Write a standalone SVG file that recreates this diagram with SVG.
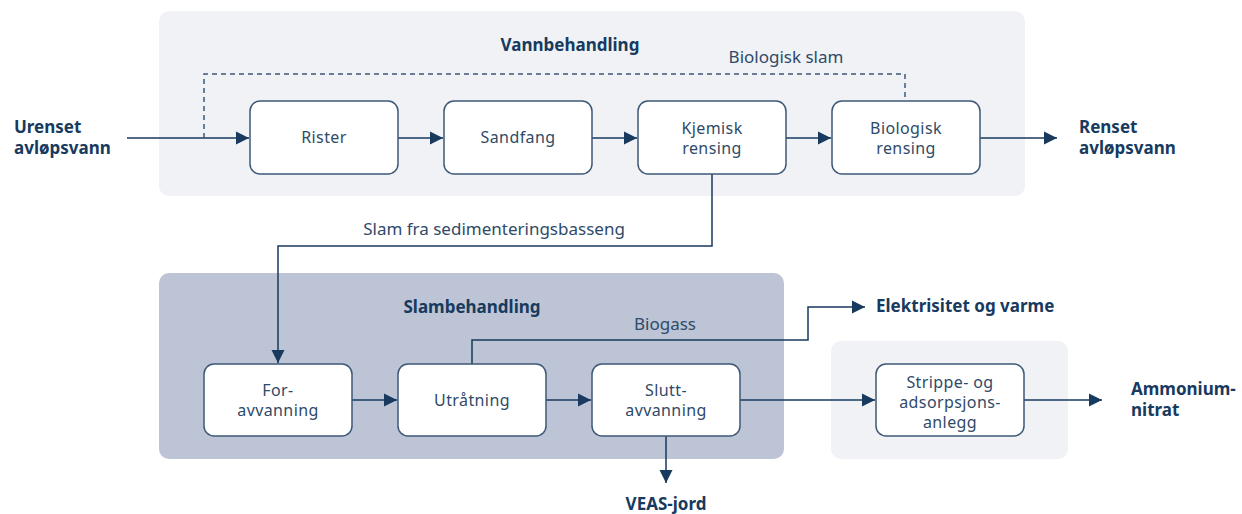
<svg xmlns="http://www.w3.org/2000/svg" width="1242" height="514" viewBox="0 0 1242 514">
<defs>
<marker id="arr" markerUnits="userSpaceOnUse" markerWidth="14" markerHeight="14" viewBox="0 0 14 14" refX="13" refY="7" orient="auto">
<path d="M0,0.5 L13,7 L0,13.5 Z" fill="#173a5e"/>
</marker>
<style>
.panel1{fill:#f0f2f6}
.panel2{fill:#bcc4d5}
.box{fill:#fff;stroke:#3e5878;stroke-width:1.5}
.bt{font-family:"Noto Sans","Open Sans",sans-serif;font-size:16px;letter-spacing:0.4px;fill:#2f4a68;text-anchor:middle}
.lt{font-family:"Noto Sans","Open Sans",sans-serif;font-size:17px;fill:#2f4a68;text-anchor:middle}
.hd{font-family:"Noto Sans","Open Sans",sans-serif;font-size:17px;font-weight:bold;fill:#173a5e}
.ln{fill:none;stroke:#173a5e;stroke-width:1.5}
.ar{marker-end:url(#arr)}
.dash{fill:none;stroke:#3e5878;stroke-width:1.5;stroke-dasharray:5,4}
</style>
</defs>
<g id="panel-vann"><rect class="panel1" x="159" y="11" width="866" height="185" rx="10"/><text class="hd" x="570" y="51" text-anchor="middle">Vannbehandling</text></g>
<g id="panel-slam"><rect class="panel2" x="159" y="273" width="625" height="186" rx="10"/><text class="hd" x="472" y="313" text-anchor="middle">Slambehandling</text></g>
<g id="panel-strip"><rect class="panel1" x="831" y="341" width="237" height="118" rx="10"/></g>

<g id="connectors">
<path class="ln ar" d="M127,138 H249"/>
<path class="ln ar" d="M398,138 H443"/>
<path class="ln ar" d="M592,138 H637"/>
<path class="ln ar" d="M786,138 H831"/>
<path class="ln ar" d="M980,138 H1057"/>
<path class="dash" d="M204,138 V74 H905 V101"/>
<path class="ln ar" d="M712,174 V246 H278 V363"/>
<path class="ln ar" d="M352,400 H397"/>
<path class="ln ar" d="M546,400 H591"/>
<path class="ln ar" d="M472,364 V340 H808 V307 H865"/>
<path class="ln ar" d="M666,436 V483"/>
<path class="ln ar" d="M739,400 H875"/>
<path class="ln ar" d="M1024,400 H1102"/>
<text class="lt" x="786" y="63">Biologisk slam</text>
<text class="lt" x="494" y="235">Slam fra sedimenteringsbasseng</text>
<text class="lt" x="665" y="330">Biogass</text>
</g>

<g id="rister"><rect class="box" x="250" y="101" width="148" height="73" rx="10"/><text class="bt" x="324" y="143">Rister</text></g>
<g id="sandfang"><rect class="box" x="444" y="101" width="148" height="73" rx="10"/><text class="bt" x="518" y="143">Sandfang</text></g>
<g id="kjemisk"><rect class="box" x="638" y="101" width="148" height="73" rx="10"/><text class="bt" x="712" y="134">Kjemisk</text><text class="bt" x="712" y="154">rensing</text></g>
<g id="biologisk"><rect class="box" x="832" y="101" width="148" height="73" rx="10"/><text class="bt" x="906" y="134">Biologisk</text><text class="bt" x="906" y="154">rensing</text></g>

<g id="foravvanning"><rect class="box" x="204" y="364" width="148" height="72" rx="10"/><text class="bt" x="278" y="396">For-</text><text class="bt" x="278" y="416">avvanning</text></g>
<g id="utratning"><rect class="box" x="398" y="364" width="148" height="72" rx="10"/><text class="bt" x="472" y="406">Utråtning</text></g>
<g id="sluttavvanning"><rect class="box" x="592" y="364" width="148" height="72" rx="10"/><text class="bt" x="666" y="396">Slutt-</text><text class="bt" x="666" y="416">avvanning</text></g>
<g id="strippe"><rect class="box" x="876" y="364" width="148" height="72" rx="10"/><text class="bt" x="950" y="388">Strippe- og</text><text class="bt" x="950" y="408">adsorpsjons-</text><text class="bt" x="950" y="428">anlegg</text></g>

<g id="urenset"><text class="hd" x="14" y="133">Urenset</text><text class="hd" x="14" y="154">avløpsvann</text></g>
<g id="renset"><text class="hd" x="1079" y="133">Renset</text><text class="hd" x="1079" y="154">avløpsvann</text></g>
<g id="elektrisitet"><text class="hd" x="876" y="312">Elektrisitet og varme</text></g>
<g id="veas"><text class="hd" x="666" y="510" text-anchor="middle">VEAS-jord</text></g>
<g id="ammonium"><text class="hd" x="1131" y="395">Ammonium-</text><text class="hd" x="1131" y="416">nitrat</text></g>
</svg>
